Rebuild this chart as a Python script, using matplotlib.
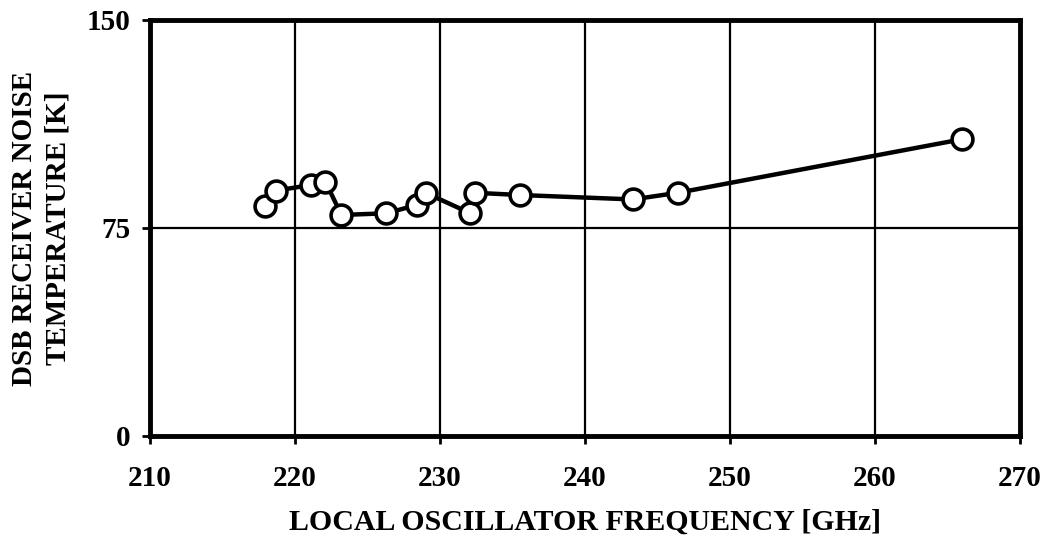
import matplotlib.pyplot as plt

# LO frequency [GHz] and DSB receiver noise temperature [K], in plotting order
lo_freq = [217.9, 218.7, 221.1, 222.1, 223.2, 226.3, 228.4, 229.0,
           232.1, 232.4, 235.5, 243.3, 246.4, 266.0]
t_rx = [82.9, 88.5, 90.5, 91.7, 79.7, 80.3, 83.3, 87.7,
        80.3, 87.7, 86.9, 85.3, 87.7, 107.0]

x_ticks = [210, 220, 230, 240, 250, 260, 270]
y_ticks = [0, 75, 150]

plt.rcParams["font.family"] = ["Liberation Serif", "DejaVu Serif"]
plt.rcParams["font.weight"] = "bold"

fig = plt.figure(figsize=(10.45, 5.41), dpi=100)
ax = fig.add_axes([150 / 1045, 105 / 541, 870 / 1045, 416 / 541])

ax.plot(lo_freq, t_rx, color="black", lw=3.2, marker="o", ms=15,
        mfc="white", mec="black", mew=2.6, zorder=3)

ax.set_xlim(210, 270)
ax.set_ylim(0, 150)
ax.set_xticks(x_ticks)
ax.set_yticks(y_ticks)
ax.grid(True, color="black", lw=1.6)
for s in ax.spines.values():
    s.set_linewidth(3.5)

ax.tick_params(direction="out", length=6, width=2, labelsize=21, pad=8)
ax.tick_params(axis="x", pad=15)
for lab in ax.get_xticklabels() + ax.get_yticklabels():
    lab.set_fontweight("bold")

ax.set_xlabel("LOCAL OSCILLATOR FREQUENCY [GHz]", fontsize=21.5,
              fontweight="bold", labelpad=12)
ax.set_ylabel("DSB RECEIVER NOISE\nTEMPERATURE [K]", fontsize=21,
              fontweight="bold", labelpad=11, linespacing=1.3)

fig.savefig("out.png", dpi=100)
